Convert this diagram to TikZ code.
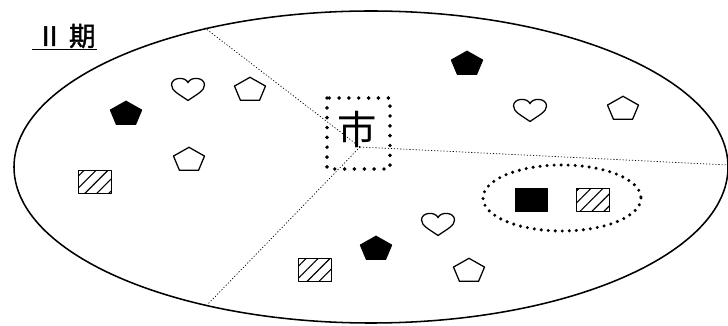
\documentclass[tikz,border=0pt]{standalone}
\usepackage{fontspec}
\newfontfamily\cjk{Noto Sans CJK JP}
\newfontfamily\cjkbold[FakeBold=1.5]{Noto Sans CJK JP}
\usetikzlibrary{patterns.meta}

\tikzset{
  pent/.pic={\draw[pic actions] (-90:1) -- (-18:1) -- (54:1) -- (126:1) -- (198:1) -- cycle;},
  heart/.pic={\draw[pic actions] (0,1) .. controls (-0.55,0.45) and (-1,0.15) .. (-1,-0.35)
      .. controls (-1,-1.05) and (-0.15,-1.1) .. (0,-0.55)
      .. controls (0.15,-1.1) and (1,-1.05) .. (1,-0.35)
      .. controls (1,0.15) and (0.55,0.45) .. (0,1) -- cycle;}
}

\begin{document}
\begin{tikzpicture}[x=0.025cm, y=-0.025cm, line join=round,
    piece/.style={xscale=16.3, yscale=12.7, line width=0.9pt},
    heartpiece/.style={xscale=16.5, yscale=11.5, line width=0.9pt},
    hatchbox/.style={draw, line width=0.9pt, minimum width=0.825cm, minimum height=0.575cm,
      inner sep=0pt, pattern={Lines[angle=45, distance=6pt, line width=0.8pt]}},
    blackbox/.style={draw, fill=black, minimum width=0.8cm, minimum height=0.575cm, inner sep=0pt},
    divider/.style={line width=0.5pt, dash pattern=on 0.8pt off 1.4pt},
    bigdots/.style={line width=2.8pt, line cap=round, dash pattern=on 0pt off 7pt}]
  \useasboundingbox (0,0) rectangle (728,326);

  % the city and its three districts
  \draw[line width=1.1pt] (371,167) ellipse [x radius=357, y radius=156];
  \coordinate (M) at (360,147);
  \coordinate (E1) at (205,28);
  \coordinate (E2) at (728,165);
  \coordinate (E3) at (208,304);
  \draw[divider] (M) -- (E1);
  \draw[divider] (M) -- (E2);
  \draw[divider] (M) -- (E3);

  \node[font=\cjkbold\fontsize{19}{19}\selectfont, inner sep=1pt] (title) at (66,36) {Ⅱ 期};
  \draw[line width=0.8pt] ([xshift=-2pt]title.south west) -- (title.south east);

  \draw[bigdots] (327,98) rectangle (390,169);
  \node[font=\cjk\fontsize{28}{28}\selectfont, inner sep=0pt] (city) at (357,130) {市};

  % left district
  \pic[heartpiece] (h1) at (188,89) {heart};
  \pic[piece] (p1) at (250,90) {pent};
  \pic[piece, fill=black] (b1) at (126,114) {pent};
  \pic[piece] (p2) at (189,160) {pent};
  \node[hatchbox] (r1) at (95,182) {};

  % upper right district
  \pic[piece, fill=black] (b2) at (467,64) {pent};
  \pic[heartpiece] (h2) at (530,110) {heart};
  \pic[piece] (p3) at (623,109) {pent};

  % lower district
  \draw[bigdots, dash pattern=on 0pt off 5pt, line width=2.4pt] (562,198) ellipse [x radius=79, y radius=33];
  \node[blackbox] (k1) at (531,200) {};
  \node[hatchbox] (r2) at (593,200) {};
  \pic[heartpiece] (h3) at (438,224) {heart};
  \pic[piece, fill=black] (b3) at (376,249) {pent};
  \node[hatchbox] (r3) at (315,270) {};
  \pic[piece] (p4) at (469,271) {pent};
\end{tikzpicture}
\end{document}
